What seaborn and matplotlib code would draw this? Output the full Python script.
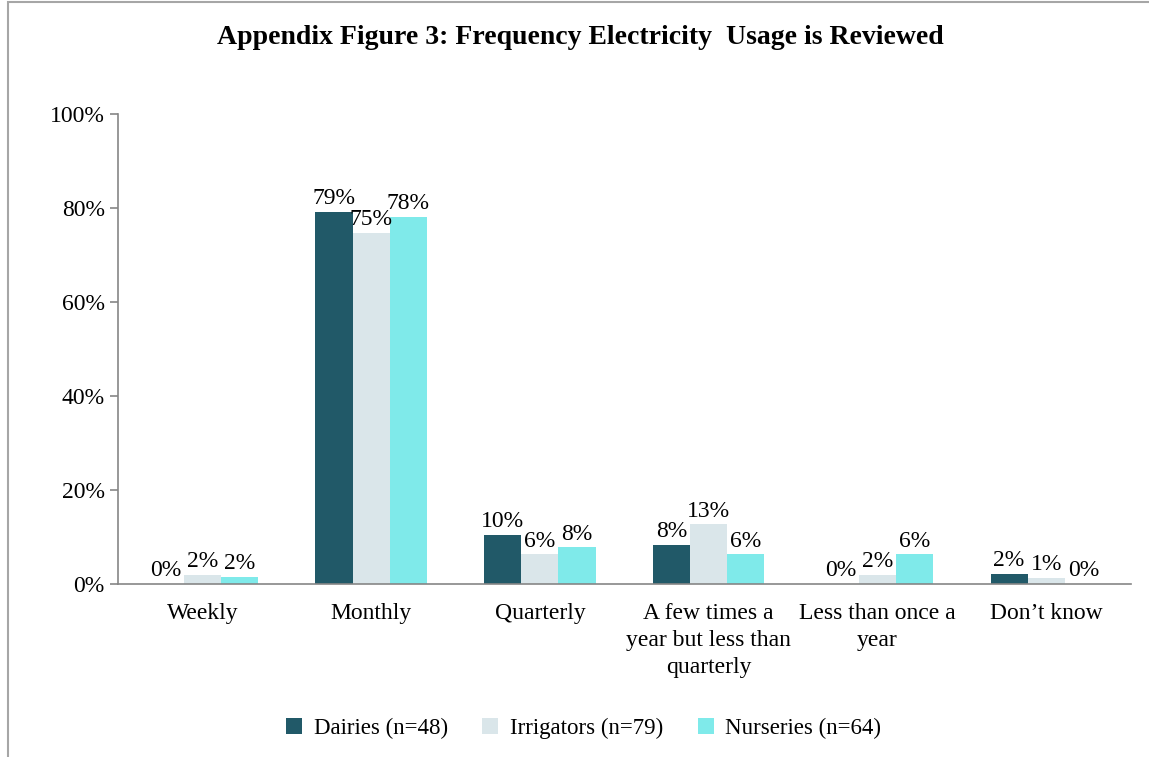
import pandas as pd
import seaborn as sns
import matplotlib.pyplot as plt
from matplotlib.patches import Rectangle
from matplotlib.ticker import PercentFormatter

# Chart data
categories = ["Weekly", "Monthly", "Quarterly",
              "A few times a\nyear but less than\nquarterly",
              "Less than once a\nyear", "Don\u2019t know"]
groups = ["Dairies (n=48)", "Irrigators (n=79)", "Nurseries (n=64)"]
dairies = [0, 79.2, 10.4, 8.3, 0, 2.1]
irrigators = [1.9, 74.7, 6.3, 12.7, 1.9, 1.3]
nurseries = [1.6, 78.1, 7.8, 6.3, 6.3, 0]
labels = {
    groups[0]: ["0%", "79%", "10%", "8%", "0%", "2%"],
    groups[1]: ["2%", "75%", "6%", "13%", "2%", "1%"],
    groups[2]: ["2%", "78%", "8%", "6%", "6%", "0%"],
}
colors = ["#215968", "#DAE6EA", "#7FEAEA"]

df = pd.DataFrame({
    "category": categories * 3,
    "group": [g for g in groups for _ in categories],
    "value": dairies + irrigators + nurseries,
})

sns.set_style("white")
plt.rcParams["font.family"] = ["Liberation Serif", "DejaVu Serif"]
plt.rcParams["text.color"] = "black"
plt.rcParams["xtick.color"] = "black"
plt.rcParams["ytick.color"] = "black"

fig = plt.figure(figsize=(11.49, 7.57), dpi=100)
ax = fig.add_axes([0.1027, 0.2285, 0.8813, 0.6209])

sns.barplot(data=df, x="category", y="value", hue="group", order=categories,
            hue_order=groups, palette=colors, width=0.66, saturation=1,
            edgecolor="none", ax=ax)

# value labels
for container, g in zip(ax.containers, groups):
    ax.bar_label(container, labels=labels[g], padding=2, fontsize=17, color="black")

ax.set_ylim(0, 100)
ax.set_xlim(-0.5, len(categories) - 0.5)
ax.set_yticks(range(0, 101, 20))
ax.yaxis.set_major_formatter(PercentFormatter(decimals=0))
ax.set_xticks([i - 0.5 for i in range(len(categories) + 1)], minor=True)
ax.tick_params(axis="x", which="major", length=0, labelsize=17, pad=14)
ax.tick_params(axis="x", which="minor", length=6, color="#868686", width=1.2)
ax.tick_params(axis="y", length=6, color="#868686", labelcolor="black", width=1.2,
               labelsize=17, left=True)
for t in ax.get_xticklabels():
    t.set_linespacing(1.35)
ax.set_xlabel("")
ax.set_ylabel("")
sns.despine(ax=ax)
for s in ["left", "bottom"]:
    ax.spines[s].set_color("#868686")
    ax.spines[s].set_linewidth(1.2)

ax.legend(loc="center", bbox_to_anchor=(0.508, 0.038), bbox_transform=fig.transFigure,
          ncol=3, frameon=False, fontsize=16.5, handlelength=0.7, handleheight=0.7,
          columnspacing=1.5, handletextpad=0.5)

fig.text(0.505, 0.950, "Appendix Figure 3: Frequency Electricity  Usage is Reviewed",
         ha="center", va="center", fontsize=20, fontweight="bold")

# chart border
fig.patches.append(Rectangle((0.007, -0.01), 1.1, 1.007, transform=fig.transFigure,
                             fill=False, edgecolor="#A6A6A6", linewidth=1.5))

fig.savefig("out.png", dpi=100)
